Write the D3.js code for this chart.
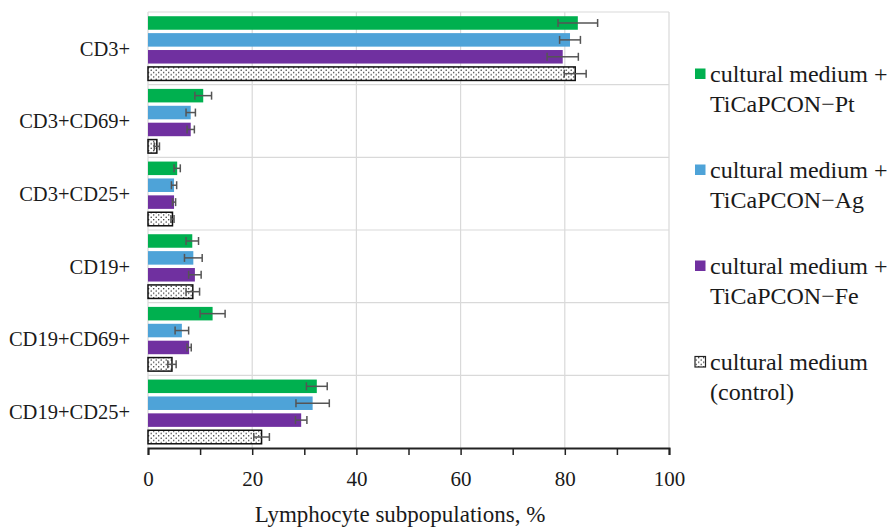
<!DOCTYPE html>
<html>
<head>
<meta charset="utf-8">
<script src="https://cdn.jsdelivr.net/npm/d3@7"></script>
<style>
  body { margin: 0; background: #fff; }
  text { font-family: "Liberation Serif", "Times New Roman", Times, serif; fill: #1a1a1a; }
</style>
</head>
<body>
<svg id="chart" width="893" height="528"></svg>
<script>
// ---- data ----
const categories = ['CD3+', 'CD3+CD69+', 'CD3+CD25+', 'CD19+', 'CD19+CD69+', 'CD19+CD25+'];
const seriesNames = ['Pt', 'Ag', 'Fe', 'control'];
const ptValues = [82.5, 10.6, 5.6, 8.5, 12.4, 32.4];
const ptErrors = [3.8, 1.6, 0.6, 1.2, 2.4, 2.0];
const agValues = [81.0, 8.2, 5.0, 8.7, 6.5, 31.6];
const agErrors = [2.0, 0.9, 0.5, 1.7, 1.3, 3.2];
const feValues = [79.6, 8.2, 5.0, 9.0, 7.9, 29.4];
const feErrors = [3.0, 0.7, 0.3, 1.2, 0.4, 1.1];
const ctrlValues = [82.0, 1.7, 4.7, 8.6, 4.6, 21.8];
const ctrlErrors = [2.1, 0.5, 0.3, 1.3, 0.8, 1.5];
const xTicks = [0, 20, 40, 60, 80, 100];
const legendLabels = [
  ['cultural medium +', 'TiCaPCON\u2212Pt'],
  ['cultural medium +', 'TiCaPCON\u2212Ag'],
  ['cultural medium +', 'TiCaPCON\u2212Fe'],
  ['cultural medium', '(control)']
];
const colors = ['#00b04f', '#4ea3d8', '#7030a0', 'url(#dots)'];

const allValues = [ptValues, agValues, feValues, ctrlValues];
const allErrors = [ptErrors, agErrors, feErrors, ctrlErrors];

const svg = d3.select('#chart');
const plotLeft = 148, plotRight = 669, plotTop = 12, plotBottom = 448;

// dotted pattern for control bars
const defs = svg.append('defs');
const pat = defs.append('pattern')
  .attr('id', 'dots')
  .attr('patternUnits', 'userSpaceOnUse')
  .attr('width', 5)
  .attr('height', 4.6);
pat.append('rect').attr('width', 5).attr('height', 4.6).attr('fill', '#fff');
pat.append('circle').attr('cx', 1.2).attr('cy', 1.1).attr('r', 0.75).attr('fill', '#222');
pat.append('circle').attr('cx', 3.7).attr('cy', 3.4).attr('r', 0.75).attr('fill', '#222');

const x = d3.scaleLinear().domain([0, 100]).range([plotLeft, plotRight]);
const y = d3.scaleBand().domain(categories).range([plotTop, plotBottom]);
const yInner = d3.scaleBand().domain(seriesNames).range([0, y.bandwidth()])
  .paddingInner(0.2).paddingOuter(0.25);

// grid
const grid = svg.append('g');
grid.selectAll('.vgrid')
  .data(xTicks)
  .join('line')
  .attr('x1', d => x(d)).attr('x2', d => x(d))
  .attr('y1', plotTop).attr('y2', plotBottom)
  .attr('stroke', '#d9d9d9').attr('stroke-width', 1.2);
grid.selectAll('.hgrid')
  .data(categories)
  .join('line')
  .attr('x1', plotLeft).attr('x2', plotRight)
  .attr('y1', d => y(d)).attr('y2', d => y(d))
  .attr('stroke', '#d9d9d9').attr('stroke-width', 1.2);

// bars
const data = [];
categories.forEach((c, i) => {
  seriesNames.forEach((s, j) => {
    data.push({ cat: c, series: s, idx: j, value: allValues[j][i], err: allErrors[j][i] });
  });
});

const bars = svg.append('g');
bars.selectAll('rect')
  .data(data)
  .join('rect')
  .attr('x', x(0))
  .attr('y', d => y(d.cat) + yInner(d.series))
  .attr('width', d => x(d.value) - x(0))
  .attr('height', yInner.bandwidth())
  .attr('fill', d => colors[d.idx])
  .attr('stroke', d => d.idx === 3 ? '#111' : 'none')
  .attr('stroke-width', 1.5);

// error bars
const errs = svg.append('g').attr('stroke', '#555').attr('stroke-width', 1.5);
data.forEach(d => {
  const cy = y(d.cat) + yInner(d.series) + yInner.bandwidth() / 2;
  const x1 = x(d.value - d.err), x2 = x(d.value + d.err);
  errs.append('line').attr('x1', x1).attr('x2', x2).attr('y1', cy).attr('y2', cy);
  errs.append('line').attr('x1', x1).attr('x2', x1).attr('y1', cy - 4).attr('y2', cy + 4);
  errs.append('line').attr('x1', x2).attr('x2', x2).attr('y1', cy - 4).attr('y2', cy + 4);
});

// x axis
const xAxis = d3.axisBottom(x)
  .tickValues(d3.range(0, 101, 10))
  .tickSize(7)
  .tickFormat(d => xTicks.includes(d) ? d : '');
const ax = svg.append('g')
  .attr('transform', `translate(0,${plotBottom})`)
  .call(xAxis);
ax.select('.domain').attr('stroke', '#222').attr('stroke-width', 2);
ax.selectAll('.tick line').attr('stroke', '#222').attr('stroke-width', 1.5);
ax.selectAll('.tick text')
  .attr('font-family', '"Liberation Serif", serif')
  .attr('font-size', 21)
  .attr('fill', '#1a1a1a')
  .attr('dy', '1.35em');

// category labels
svg.append('g').selectAll('text')
  .data(categories)
  .join('text')
  .attr('x', 130)
  .attr('y', d => y(d) + y.bandwidth() / 2)
  .attr('dy', '0.35em')
  .attr('text-anchor', 'end')
  .attr('font-size', 20.5)
  .text(d => d);

// axis title
svg.append('text')
  .attr('x', 400)
  .attr('y', 522)
  .attr('text-anchor', 'middle')
  .attr('font-size', 23)
  .text('Lymphocyte subpopulations, %');

// legend
const legend = svg.append('g');
legendLabels.forEach((lines, i) => {
  const ly = 74 + i * 96;
  legend.append('rect')
    .attr('x', 695).attr('y', ly - 5.5)
    .attr('width', 10.5).attr('height', 10.5)
    .attr('fill', colors[i])
    .attr('stroke', i === 3 ? '#222' : 'none')
    .attr('stroke-width', 1.2);
  lines.forEach((t, k) => {
    legend.append('text')
      .attr('x', 710)
      .attr('y', ly + k * 30)
      .attr('dy', '0.35em')
      .attr('font-size', 24)
      .text(t);
  });
});
</script>
</body>
</html>
